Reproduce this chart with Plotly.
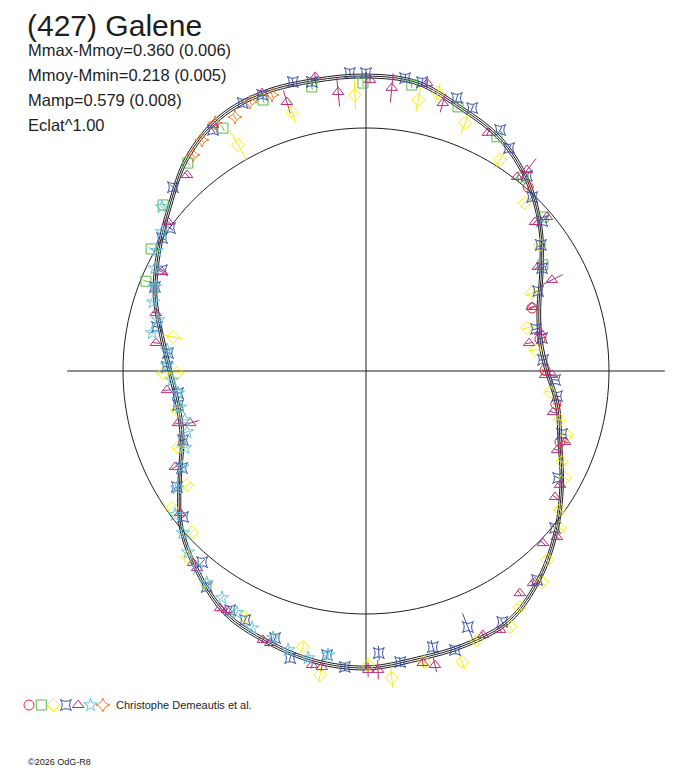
import plotly.graph_objects as go

# texts
title = "(427) Galene"
stats = [
    "Mmax-Mmoy=0.360 (0.006)",
    "Mmoy-Mmin=0.218 (0.005)",
    "Mamp=0.579 (0.008)",
    "Eclat^1.00",
]
observer = "Christophe Demeautis et al."
copyright_txt = "©2026 OdG-R8"

# mean lightcurve (polar: angle in degrees, relative flux as radius)
curve_theta = [0, 10, 20, 30, 40, 50, 60, 70, 80, 90, 100, 110, 120, 130, 140, 150, 160, 170,
               180, 190, 200, 210, 220, 230, 240, 250, 260, 270, 280, 290, 300, 310, 320, 330, 340, 350]
curve_r = [0.745, 0.728, 0.757, 0.834, 0.935, 1.029, 1.104, 1.150, 1.205, 1.214, 1.214, 1.220,
           1.204, 1.145, 1.055, 0.985, 0.924, 0.855, 0.807, 0.787, 0.805, 0.885, 0.994, 1.078,
           1.153, 1.186, 1.213, 1.222, 1.204, 1.199, 1.184, 1.112, 1.022, 0.930, 0.849, 0.800]
curve_sigma = 0.008
ref_r = 1.0
axis_len = 1.23

# observations, one set per session
red_theta = [48.6, 20.8, 10.4, 0.3, -9.9, -20.1]
red_r = [1.009, 0.731, 0.728, 0.737, 0.793, 0.850]
red_err = [0.012, 0.012, 0.012, 0.012, 0.012, 0.012]

green_theta = [100.8, 110.8, 120.5, 130.6, 140.7, 150.4, 157.8, 90.6, 80.9, 70.8, 60.8, 51.0, 41.0, 31.0]
green_r = [1.190, 1.193, 1.160, 1.127, 1.079, 1.017, 0.978, 1.185, 1.192, 1.151, 1.104, 1.027, 0.966, 0.849]
green_err = [0.012, 0.012, 0.012, 0.012, 0.012, 0.012, 0.012, 0.015, 0.012, 0.012, 0.012, 0.012, 0.012, 0.012]

yellow_theta = [119.5, 105.9, 92.3, 79.1, 75.5, 68.2, 57.6, 46.6, 35.9, 25.2, 15.0, 7.1, -6.5, -14.2,
                -17.7, -24.9, -28.3, -35.6, -39.0, -46.2, -50.2, -56.9, -60.6, -67.6, -71.7, -78.7,
                -85.2, -89.6, -98.6, -102.9, -116.2, -126.6, -133.9, -137.2, -144.8, -147.5, -158.0,
                -168.3, -179.4, -179.4, 170.0]
yellow_r = [1.069, 1.109, 1.137, 1.136, 1.182, 1.099, 1.029, 0.952, 0.884, 0.755, 0.686, 0.701, 0.762,
            0.823, 0.868, 0.889, 0.930, 0.982, 1.027, 1.077, 1.131, 1.160, 1.209, 1.198, 1.261, 1.221,
            1.268, 1.210, 1.265, 1.165, 1.128, 1.097, 1.062, 0.976, 0.977, 0.873, 0.835, 0.794, 0.778,
            0.835, 0.807]
yellow_err = [0.07, 0.05, 0.06, 0.05, 0.04, 0.05, 0.04, 0.03, 0.03, 0.03, 0.02, 0.02, 0.02, 0.02,
              0.02, 0.02, 0.02, 0.02, 0.02, 0.02, 0.02, 0.02, 0.02, 0.02, 0.03, 0.02, 0.04, 0.03,
              0.03, 0.02, 0.02, 0.02, 0.02, 0.02, 0.02, 0.02, 0.02, 0.02, 0.03, 0.03, 0.04]

blue_theta = [90.0, 93.1, 100.6, 104.2, 110.6, 114.7, 122.4, 136.4, 82.4, 79.0, 71.6, 68.0, 60.9, 57.3,
              50.5, 46.3, 40.4, 35.8, 30.3, 24.9, 13.9, 10.6, 3.6, -2.7, -7.5, -17.8, -29.1, -39.7,
              -50.7, -61.5, -68.3, -72.3, -76.4, -83.3, -87.4, -94.1, -97.8, -104.8, -108.8, -115.9,
              -119.6, -126.4, -130.6, -141.4, -148.5, -152.2, -159.3, -169.7, -173.3, 178.8, 174.8,
              168.1, 158.3, 153.7, 146.9, 143.9]
blue_r = [1.226, 1.228, 1.210, 1.227, 1.214, 1.214, 1.175, 1.097, 1.216, 1.211, 1.184, 1.167, 1.135,
          1.090, 1.041, 0.990, 0.952, 0.887, 0.839, 0.781, 0.721, 0.737, 0.730, 0.779, 0.793, 0.847,
          0.905, 1.011, 1.111, 1.175, 1.134, 1.205, 1.169, 1.206, 1.162, 1.221, 1.180, 1.222, 1.161,
          1.139, 1.132, 1.104, 1.036, 0.963, 0.913, 0.856, 0.805, 0.786, 0.779, 0.819, 0.818, 0.879,
          0.935, 0.937, 1.002, 0.998]
blue_err = [0.015, 0.015, 0.015, 0.015, 0.015, 0.015, 0.015, 0.015, 0.015, 0.015, 0.015, 0.015, 0.015,
            0.015, 0.015, 0.015, 0.015, 0.015, 0.015, 0.015, 0.015, 0.015, 0.015, 0.015, 0.015, 0.015,
            0.015, 0.015, 0.015, 0.015, 0.060, 0.015, 0.030, 0.020, 0.030, 0.015, 0.015, 0.015, 0.015,
            0.015, 0.015, 0.015, 0.015, 0.015, 0.015, 0.015, 0.015, 0.015, 0.015, 0.015, 0.015, 0.015,
            0.015, 0.015, 0.015, 0.015]

magenta_theta = [132.4, 121.9, 110.5, 106.4, 99.8, 95.7, 89.2, 84.8, 78.0, 74.0, 62.9, 52.1, 51.3, 41.4,
                 40.4, 31.2, 26.1, 21.1, 12.6, 9.7, -1.3, -1.2, -12.4, -19.6, -22.5, -30.4, -33.7,
                 -41.0, -44.2, -51.8, -55.3, -62.6, -66.1, -76.8, -79.0, -87.7, -89.6, -98.5, -100.4,
                 -109.4, -111.0, -120.2, -121.6, -130.6, -132.0, -142.6, -153.3, -163.5, -164.5,
                 -174.5, 172.4, 164.6, 154.1, 143.0]
magenta_r = [1.092, 1.192, 1.221, 1.154, 1.228, 1.154, 1.198, 1.170, 1.211, 1.147, 1.101, 1.012, 1.060,
             0.927, 0.978, 0.827, 0.852, 0.732, 0.734, 0.681, 0.737, 0.766, 0.788, 0.870, 0.851, 0.926,
             0.935, 1.041, 1.016, 1.111, 1.112, 1.200, 1.188, 1.243, 1.224, 1.231, 1.230, 1.232, 1.230,
             1.187, 1.185, 1.138, 1.146, 1.068, 1.063, 0.963, 0.880, 0.755, 0.803, 0.823, 0.872, 0.897,
             0.933, 1.020]
magenta_err = [0.015, 0.015, 0.015, 0.050, 0.015, 0.060, 0.015, 0.060, 0.015, 0.040, 0.015, 0.015, 0.060,
               0.015, 0.015, 0.015, 0.050, 0.015, 0.015, 0.015, 0.015, 0.015, 0.015, 0.015, 0.015, 0.015,
               0.015, 0.015, 0.015, 0.015, 0.015, 0.015, 0.015, 0.030, 0.015, 0.040, 0.030, 0.015, 0.015,
               0.015, 0.015, 0.015, 0.015, 0.015, 0.015, 0.015, 0.015, 0.040, 0.015, 0.015, 0.015, 0.015,
               0.015, 0.015]

cyan_theta = [141.2, 145.7, 150.1, 154.0, 158.3, 162.1, 166.2, 169.9, 174.0, 178.3, -177.3, -173.3,
              -169.0, -164.9, -161.2, -157.0, -152.4, -148.2, -143.0, -138.5, -134.5, -130.5, -126.9,
              -122.4, -118.1, -113.9, -109.2, -105.6, -101.4, -97.6]
cyan_r = [1.077, 1.016, 0.994, 0.966, 0.935, 0.921, 0.881, 0.894, 0.823, 0.819, 0.799, 0.779, 0.780,
          0.772, 0.778, 0.809, 0.854, 0.915, 0.984, 1.006, 1.045, 1.065, 1.091, 1.106, 1.128, 1.157,
          1.163, 1.192, 1.205, 1.179]
cyan_err = [0.012, 0.012, 0.012, 0.012, 0.012, 0.012, 0.012, 0.012, 0.012, 0.012, 0.012, 0.012, 0.012,
            0.012, 0.012, 0.012, 0.012, 0.012, 0.012, 0.012, 0.012, 0.012, 0.012, 0.012, 0.012, 0.012,
            0.012, 0.012, 0.012, 0.012]

orange_theta = [121.3, 117.3, 113.3, 108.8, 125.4, 128.7]
orange_r = [1.195, 1.176, 1.205, 1.200, 1.166, 1.139]
orange_err = [0.012, 0.012, 0.012, 0.012, 0.012, 0.012]

sessions = [
    (red_theta, red_r, red_err, "#e8282e", "circle-open"),
    (green_theta, green_r, green_err, "#5cb848", "square-open"),
    (yellow_theta, yellow_r, yellow_err, "#f4f000", "diamond-open"),
    (blue_theta, blue_r, blue_err, "#3a50a4", "star-square-open"),
    (magenta_theta, magenta_r, magenta_err, "#b42e7c", "triangle-up-open"),
    (cyan_theta, cyan_r, cyan_err, "#62c6dc", "star-open"),
    (orange_theta, orange_r, orange_err, "#f07c22", "star-diamond-open"),
]

INK = "#1e1e1e"
FONT = "Liberation Sans"

fig = go.Figure()

# reference circle and axes
circ = list(range(0, 361, 2))
fig.add_trace(go.Scatterpolar(theta=circ, r=[ref_r] * len(circ), mode="lines",
                              line=dict(color=INK, width=1)))
fig.add_trace(go.Scatterpolar(theta=[0, 0, 180], r=[axis_len, 0, axis_len], mode="lines",
                              line=dict(color=INK, width=1)))
fig.add_trace(go.Scatterpolar(theta=[90, 90, 270], r=[axis_len, 0, axis_len], mode="lines",
                              line=dict(color=INK, width=1)))

# fitted curve with its envelope
ct = curve_theta + [curve_theta[0] + 360]
cr = curve_r + [curve_r[0]]
for off in (-curve_sigma, 0, curve_sigma):
    fig.add_trace(go.Scatterpolar(theta=ct, r=[v + off for v in cr], mode="lines",
                                  line=dict(color=INK, width=1, shape="spline", smoothing=1)))

# error bars and markers
for th, rr, ee, col, sym in sessions:
    bt, br = [], []
    for t, r, e in zip(th, rr, ee):
        bt += [t, t, None]
        br += [r - e, r + e, None]
    fig.add_trace(go.Scatterpolar(theta=bt, r=br, mode="lines", line=dict(color=col, width=1)))
for th, rr, ee, col, sym in sessions:
    fig.add_trace(go.Scatterpolar(theta=th, r=rr, mode="markers",
                                  marker=dict(symbol=sym, size=10, color=col,
                                              line=dict(color=col, width=1))))

# symbol key at the bottom
for i, (th, rr, ee, col, sym) in enumerate(sessions):
    fig.add_trace(go.Scatter(x=[i], y=[0], mode="markers", xaxis="x", yaxis="y",
                             marker=dict(symbol=sym, size=10, color=col,
                                         line=dict(color=col, width=1))))

# the page adds an 8 px body margin, so the figure is drawn 8 px smaller
# and every position below is the reference pixel minus 8
OFF = 8
W, H = 688 - OFF, 768 - OFF
half = 320
R = half / 243
cx, cy = 366 - OFF, 371 - OFF


def px(x):
    return (x - OFF) / W


def py(y):
    return 1 - (y - OFF) / H


annotations = [dict(text=title, x=px(26), y=1.0, yanchor="top", borderpad=0,
                    font=dict(size=30, color=INK, family=FONT))]
for k, s in enumerate(stats):
    annotations.append(dict(text=s, x=px(26), y=py(50 + 25 * k),
                            font=dict(size=16.5, color=INK, family=FONT)))
annotations.append(dict(text=observer, x=px(114), y=py(705),
                        font=dict(size=11, color=INK, family=FONT)))
annotations.append(dict(text=copyright_txt, x=px(26), y=py(762),
                        font=dict(size=9, color=INK, family=FONT)))
for a in annotations:
    a.setdefault("yanchor", "middle")
    a.update(xref="paper", yref="paper", xanchor="left", showarrow=False)

fig.update_layout(
    width=W, height=H,
    margin=dict(l=0, r=0, t=0, b=0),
    paper_bgcolor="white", plot_bgcolor="white",
    showlegend=False,
    polar=dict(
        domain=dict(x=[(cx - half) / W, (cx + half) / W],
                    y=[(H - cy - half) / H, (H - cy + half) / H]),
        bgcolor="white",
        radialaxis=dict(visible=False, range=[0, R]),
        angularaxis=dict(visible=False),
    ),
    xaxis=dict(visible=False, domain=[0, 1], range=[-(29 - OFF) / 12.3, (W - 29 + OFF) / 12.3]),
    yaxis=dict(visible=False, domain=[py(716), py(694)], range=[-1, 1]),
    annotations=annotations,
)

fig.write_html("out.html")
